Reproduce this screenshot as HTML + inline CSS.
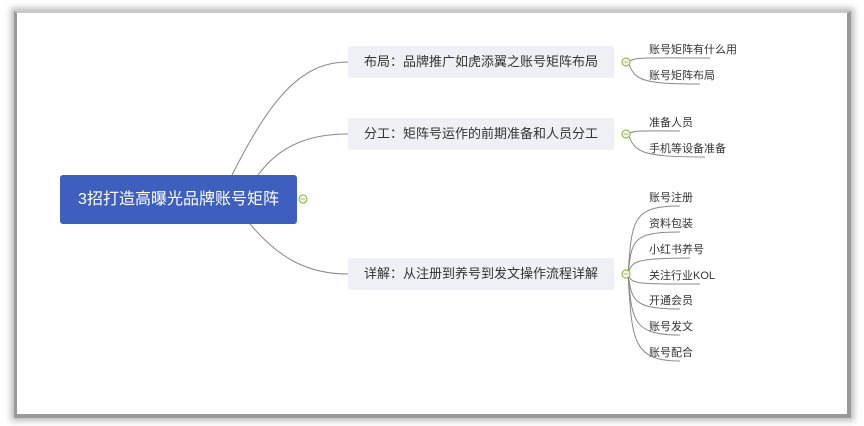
<!DOCTYPE html>
<html><head><meta charset="utf-8"><style>
body{margin:0;width:864px;height:426px;background:#fff;position:relative;overflow:hidden;font-family:"Liberation Sans","Noto Sans CJK SC",sans-serif;}
.frame{position:absolute;left:14px;top:11px;width:830px;height:401px;background:#fff;border-left:3px solid #9a9a9a;border-top:2px solid #c8c8c8;border-right:4px solid #999;border-bottom:4px solid #999;box-shadow:0 0 6px 3px #bbb;}
.root{position:absolute;left:60px;top:175px;width:237px;height:49px;background:#3f5fbf;border-radius:3px;color:#fff;font-size:16px;line-height:49px;text-align:center;}
.br{position:absolute;left:348px;width:266px;height:32px;background:#eef0f6;border-radius:2px;color:#333;font-size:13px;line-height:32px;text-align:center;}
.lf{position:absolute;left:649px;font-size:11px;color:#333;}
svg{position:absolute;left:0;top:0;}
</style></head><body>
<div class="frame"></div>
<svg width="864" height="426">
<g fill="none" stroke="#888" stroke-width="1">
<path d="M232,175 C270,100 300,62 348,62"/>
<path d="M258,175 C280,145 310,134 348,134"/>
<path d="M250,224 C280,260 310,274 348,274"/>
<path d="M628,62 C635,57 640,58 710,58"/><path d="M628,62 C635,80 640,84 700,84"/>
<path d="M628,134 C635,130 640,131 680,131"/><path d="M628,134 C635,152 640,157 705,157"/>
<path d="M628,274 C632,220 632,206 680,206"/>
<path d="M628,274 C632,240 632,232 680,232"/>
<path d="M628,274 C632,262 632,258 690,258"/>
<path d="M628,274 C632,284 632,284 700,284"/>
<path d="M628,274 C632,300 632,309 680,309"/>
<path d="M628,274 C632,320 632,335 680,335"/>
<path d="M628,274 C632,340 632,361 680,361"/>
</g>
<g fill="#fff" stroke="#8bc34a" stroke-width="1.2">
<circle cx="303" cy="199" r="4"/><circle cx="626" cy="62" r="4"/><circle cx="626" cy="134" r="4"/><circle cx="626" cy="274" r="4"/>
</g>
<g stroke="#8bc34a" stroke-width="1"><path d="M300.5,199h5M623.5,62h5M623.5,134h5M623.5,274h5"/></g>
</svg>
<div class="root">3招打造高曝光品牌账号矩阵</div>
<div class="br" style="top:46px">布局：品牌推广如虎添翼之账号矩阵布局</div>
<div class="br" style="top:118px">分工：矩阵号运作的前期准备和人员分工</div>
<div class="br" style="top:258px">详解：从注册到养号到发文操作流程详解</div>
<div class="lf" style="top:41px">账号矩阵有什么用</div>
<div class="lf" style="top:67px">账号矩阵布局</div>
<div class="lf" style="top:114px">准备人员</div>
<div class="lf" style="top:140px">手机等设备准备</div>
<div class="lf" style="top:189px">账号注册</div>
<div class="lf" style="top:215px">资料包装</div>
<div class="lf" style="top:241px">小红书养号</div>
<div class="lf" style="top:267px">关注行业KOL</div>
<div class="lf" style="top:292px">开通会员</div>
<div class="lf" style="top:318px">账号发文</div>
<div class="lf" style="top:344px">账号配合</div>
</body></html>
